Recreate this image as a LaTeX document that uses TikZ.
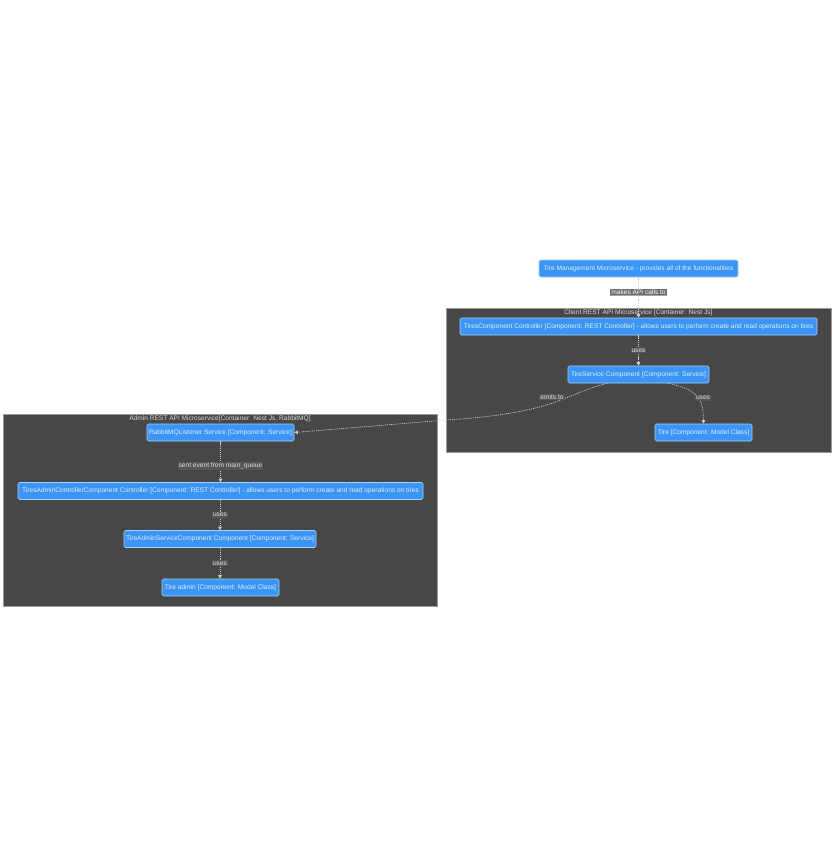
\documentclass[tikz,border=0pt]{standalone}
\usepackage{fontspec}
\setmainfont{Liberation Sans}
\usetikzlibrary{arrows.meta,shadows}
\definecolor{nodeblue}{HTML}{3A95F5}
\definecolor{nodeborder}{HTML}{A8D0FF}
\definecolor{nodetext}{HTML}{E4EEF8}
\definecolor{contfill}{HTML}{474747}
\definecolor{contborder}{HTML}{9A9A9A}
\definecolor{edgecol}{HTML}{CFCFCF}
\definecolor{lblbg}{HTML}{555555}
\tikzset{
  comp/.style={draw=nodeborder, fill=nodeblue, rounded corners=1.5pt, line width=0.6pt,
    text=nodetext, font=\fontsize{6.6}{7}\selectfont, minimum height=17pt, inner sep=1pt},
  cont/.style={draw=contborder, fill=contfill, line width=0.6pt, inner sep=0pt},
  ctitle/.style={text=white!85!black, font=\fontsize{6.6}{7}\selectfont, inner sep=0.5pt},
  edge/.style={draw=edgecol, line width=0.6pt, dash pattern=on 1.2pt off 0.9pt,
    -{Triangle[width=3.5pt,length=3.5pt]}},
  elabel/.style={fill=lblbg, text=white!88!black, font=\fontsize{6.6}{7}\selectfont, inner sep=1pt},
  toplabel/.style={fill=gray!85!black, text=white, font=\fontsize{6.6}{7}\selectfont, inner sep=1pt,
    drop shadow={shadow xshift=0pt, shadow yshift=-1pt, fill=black!70}},
}
\begin{document}
\begin{tikzpicture}[x=1pt,y=-1pt]
\useasboundingbox (0,0) rectangle (835,867);
\fill[white] (0,0) rectangle (835,867);
% containers
\node[cont, minimum width=385pt, minimum height=144pt] (client) at (638.5,380) {};
\node[ctitle] (clienttitle) at (638.5,313) {Client REST API Microservice [Container: Nest Js]};
\node[cont, minimum width=434pt, minimum height=192pt] (admin) at (220,510) {};
\node[ctitle] (admintitle) at (220,419) {Admin REST API Microservice[Container: Nest Js, RabbitMQ]};
% components
\node[comp, minimum width=199pt] (tm) at (638.5,268.5) {Tire Management Microservice - provides all of the functionalities};
\node[comp, minimum width=357pt] (tc) at (638.5,326.5) {TiresComponent Controller [Component: REST Controller] - allows users to perform create and read operations on tires};
\node[comp, minimum width=141pt] (ts) at (638.5,374.5) {TireService Component [Component: Service]};
\node[comp, minimum width=97pt] (tire) at (703.5,432.5) {Tire [Component: Model Class]};
\node[comp, minimum width=147pt] (rmq) at (220.5,432.5) {RabbitMQListener Service [Component: Service]};
\node[comp, minimum width=405pt] (tac) at (220.5,491) {TiresAdminControllerComponent Controller [Component: REST Controller] - allows users to perform create and read operations on tires};
\node[comp, minimum width=192pt] (tas) at (220,539) {TireAdminServiceComponent Component [Component: Service]};
\node[comp, minimum width=117pt] (ta) at (220.5,587.5) {Tire admin [Component: Model Class]};
% edges
\draw[edge] (tm.south) -- (tc.north);
\node[toplabel] (l1) at (638.5,292) {makes API calls to};
\draw[edge] (tc.south) -- node[elabel] (l2) {uses} (ts.south |- ts.north);
\draw[edge] ([xshift=29.5pt]ts.south) .. controls (700,390) and (703,400) .. (tire.north);
\node[elabel] (l3) at (703,398) {uses};
\draw[edge] ([xshift=-31pt]ts.south) .. controls (565,393) and (560,413) .. (446,420) -- (rmq.east);
\node[elabel] (l4) at (552,397) {emits to};
\draw[edge] (rmq.south) -- (rmq.south |- tac.north);
\node[elabel] (l5) at (220.5,466) {sent event from main\_queue};
\draw[edge] (tac.south -| tas.north) -- node[elabel] (l6) {uses} (tas.north);
\draw[edge] (tas.south) -- node[elabel] (l7) {uses} (tas.south |- ta.north);
\end{tikzpicture}
\end{document}
